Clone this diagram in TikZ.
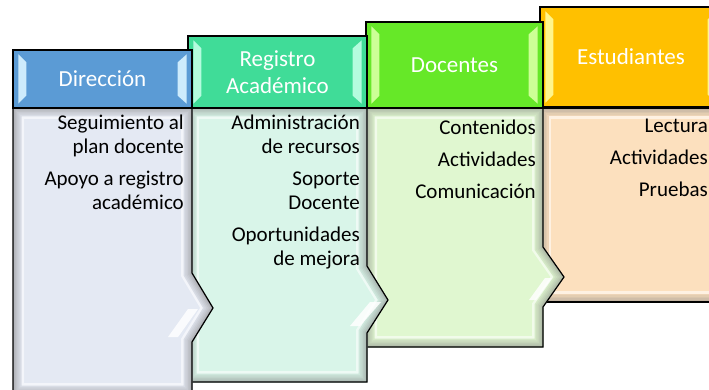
\documentclass[tikz,border=0pt]{standalone}
\usepackage{fontspec}
\setmainfont{Carlito}
\usetikzlibrary{calc}

\definecolor{dirhead}{RGB}{91,155,213}
\definecolor{dirbody}{RGB}{228,233,243}
\definecolor{dirlight}{RGB}{205,235,252}
\definecolor{reghead}{RGB}{64,220,152}
\definecolor{regbody}{RGB}{217,245,233}
\definecolor{reglight}{RGB}{180,252,222}
\definecolor{dochead}{RGB}{102,232,40}
\definecolor{docbody}{RGB}{224,247,208}
\definecolor{doclight}{RGB}{205,255,150}
\definecolor{esthead}{RGB}{255,192,0}
\definecolor{estbody}{RGB}{252,224,190}
\definecolor{estlight}{RGB}{255,245,140}

\tikzset{
  head/.style={draw=black, line width=1.2pt, inner sep=2pt, text=white, align=center,
    font=\fontsize{23}{27}\selectfont},
  items/.style={anchor=north east, inner sep=0pt, align=right,
    font=\fontsize{21}{24}\selectfont},
  outline/.style={draw=black, line width=1.2pt, line join=miter},
  glint/.style={fill=white, opacity=0.85},
}

% body with a stepped bevel: #1 path, #2 colour
\newcommand\bevelbody[2]{%
  \fill[#2] #1;
  \begin{scope}
    \clip #1;
    \draw[line width=22pt, white!55!#2] #1;
    \foreach \w/\m in {17/12,14/20,11/28,8/36,5/46,2/58}
      \draw[line width=\w pt, gray!\m!#2] #1;
  \end{scope}
  \draw[outline] #1;
}

% light facets left and right of a header
\newcommand\headstrips[2]{%
  \fill[#2] ($(#1.north west)+(6,5)$) -- ($(#1.north west)+(14,13)$)
    -- ($(#1.south west)+(14,-13)$) -- ($(#1.south west)+(6,-5)$) -- cycle;
  \fill[#2] ($(#1.north east)+(-6,5)$) -- ($(#1.north east)+(-15,13)$)
    -- ($(#1.south east)+(-15,-13)$) -- ($(#1.south east)+(-6,-5)$) -- cycle;
}

\def\dirpath{(13,108) -- (192,108) -- (192,273) -- (213,308) -- (192,342) -- (192,394) -- (13,394) -- cycle}
\def\regpath{(188,108) -- (367,108) -- (367,266) -- (388,300) -- (367,333) -- (367,382) -- (188,382) -- cycle}
\def\docpath{(366,108) -- (543,108) -- (543,247) -- (564,277) -- (543,307) -- (543,347) -- (366,347) -- cycle}
\def\estpath{(540,108) -- (722,108) -- (722,302) -- (540,302) -- cycle}

\begin{document}
\begin{tikzpicture}[x=1pt, y=-1pt]
    \useasboundingbox (0,0) rectangle (709,390);
    \clip (0,0) rectangle (709,390);

    % Estudiantes
    \bevelbody{\estpath}{estbody}
    \node[head, fill=esthead, minimum width=182pt, minimum height=100pt] at (631,57) (est) {Estudiantes};
    \headstrips{est}{estlight}
    \node[items] at (708,119) (esttxt) {Lectura\\[8pt]Actividades\\[8pt]Pruebas};

    % Docentes
    \bevelbody{\docpath}{docbody}
    \node[head, fill=dochead, minimum width=177pt, minimum height=86pt] at (454.5,65) (doc) {Docentes};
    \headstrips{doc}{doclight}
    \node[items] at (536,119.5) (doctxt) {Contenidos\\[8pt]Actividades\\[8pt]Comunicación};
    \fill[glint] (545,278) -- (552,278) -- (536,300) -- (529,300) -- cycle;

    % Registro Academico
    \bevelbody{\regpath}{regbody}
    \node[head, fill=reghead, minimum width=179pt, minimum height=72pt] at (277.5,72) (reg) {Registro\\Académico};
    \headstrips{reg}{reglight}
    \node[items] at (360,115) (regtxt) {Administración\\de recursos\\[8pt]Soporte\\Docente\\[8pt]Oportunidades\\de mejora};
    \fill[glint] (370,302) -- (381,302) -- (360,326) -- (350,326) -- cycle;

    % Direccion
    \bevelbody{\dirpath}{dirbody}
    \node[head, fill=dirhead, minimum width=179pt, minimum height=58pt] at (102.5,79) (dir) {Dirección};
    \headstrips{dir}{dirlight}
    \node[items] at (184,115) (dirtxt) {Seguimiento al\\plan docente\\[8pt]Apoyo a registro\\académico};
    \fill[glint] (188,309) -- (198,309) -- (178,337) -- (168,337) -- cycle;
\end{tikzpicture}
\end{document}
